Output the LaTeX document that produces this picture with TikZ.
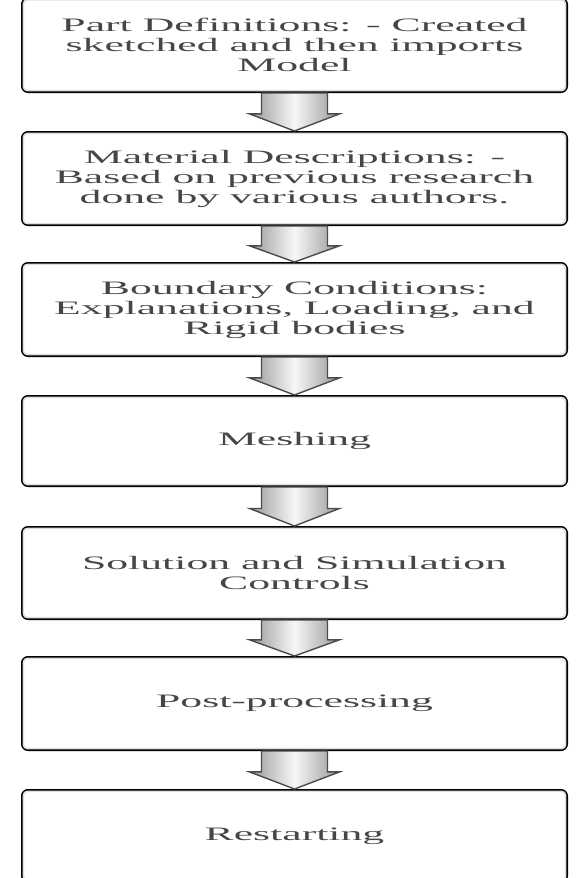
\documentclass[tikz,border=0pt]{standalone}
\usepackage{fontspec}
\setmainfont[FakeStretch=2.3]{Liberation Serif}
\usetikzlibrary{calc}
\definecolor{textgray}{RGB}{70,70,70}
\definecolor{edgegray}{RGB}{222,222,222}
\definecolor{arrowside}{RGB}{150,150,150}
\tikzset{
  stagebox/.style={draw=black, line width=2pt, rounded corners=6pt, minimum width=545pt,
    align=center, text=textgray, font=\fontsize{19}{20}\selectfont, inner sep=0pt},
  stageedge/.style={draw=edgegray, line width=1.6pt, rounded corners=4pt},
  flowarrow/.style={draw=black!70, line width=1.4pt, line join=miter,
    left color=arrowside, right color=arrowside, middle color=gray!6}
}

\begin{document}
\begin{tikzpicture}[x=1pt, y=-1pt]
\useasboundingbox (0,0) rectangle (584,878);
\node[stagebox, minimum height=93.5pt] (part) at (294.5,45.25) {Part Definitions: - Created\\sketched and then imports\\Model};
\node[stagebox, minimum height=93pt] (material) at (294.5,178.5) {Material Descriptions: -\\Based on previous research\\done by various authors.};
\node[stagebox, minimum height=93pt] (boundary) at (294.5,309.5) {Boundary Conditions:\\Explanations, Loading, and\\Rigid bodies};
\node[stagebox, minimum height=90pt] (meshing) at (294.5,441) {Meshing};
\node[stagebox, minimum height=92pt] (solution) at (294.5,573) {Solution and Simulation\\Controls};
\node[stagebox, minimum height=93pt] (post) at (294.5,703.5) {Post-processing};
\node[stagebox, minimum height=92pt] (restart) at (294.5,836) {Restarting};
% light inner rim of every box
\foreach \n in {part,material,boundary,meshing,solution,post,restart}
  \draw[stageedge] ($(\n.south west)+(2.4pt,2.4pt)$) rectangle ($(\n.north east)+(-2.4pt,-2.4pt)$);
% block arrows
\foreach \a/\b in {part/material,material/boundary,boundary/meshing,meshing/solution,solution/post,post/restart}
  \draw[flowarrow] let \p1=(\a.south), \p2=(\b.north) in
    (\x1-33pt,\y1) -- (\x1+33pt,\y1) -- (\x1+33pt,{0.45*\y1+0.55*\y2})
    -- (\x1+45pt,{0.45*\y1+0.55*\y2}) -- (\x1,\y2) -- (\x1-45pt,{0.45*\y1+0.55*\y2})
    -- (\x1-33pt,{0.45*\y1+0.55*\y2}) -- cycle;
\end{tikzpicture}
\end{document}
